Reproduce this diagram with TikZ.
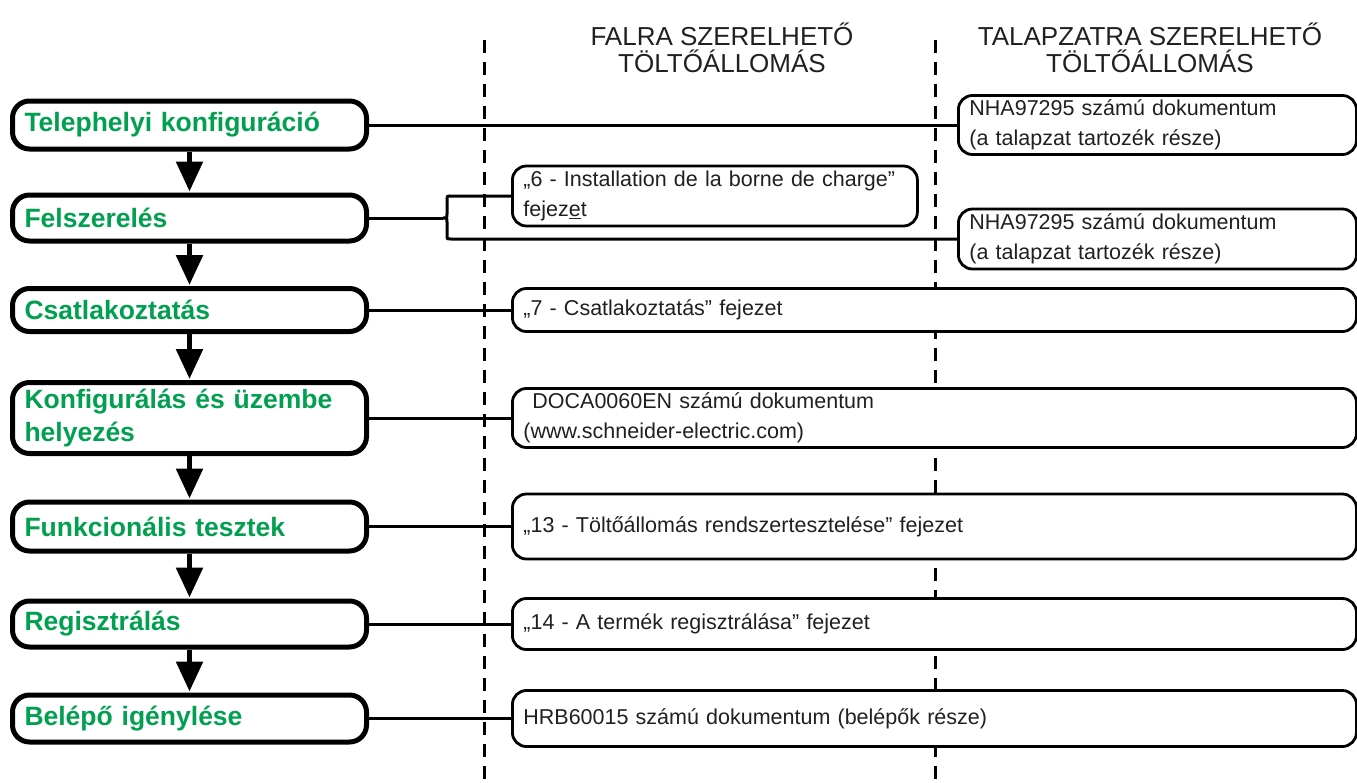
\documentclass[tikz,border=0pt]{standalone}
\usepackage{fontspec}
\setmainfont{Liberation Sans}
\usetikzlibrary{arrows.meta}
\definecolor{sgreen}{RGB}{0,160,80}
\definecolor{txtgray}{RGB}{35,31,32}
\begin{document}
\begin{tikzpicture}[x=1pt,y=-1pt,
  stepbox/.style={draw=black, fill=white, line width=5pt, rounded corners=17pt, minimum width=354pt, text width=330pt, align=left, inner xsep=12pt, inner ysep=0pt, anchor=west, font=\fontsize{26.5}{33}\selectfont\bfseries, text=sgreen},
  docbox/.style={draw=black, fill=white, line width=2.8pt, rounded corners=14pt, align=left, inner xsep=11pt, inner ysep=0pt, anchor=west, font=\fontsize{21.5}{30}\selectfont, text=txtgray},
  shortdoc/.style={docbox, minimum width=398pt, text width=376pt},
  longdoc/.style={docbox, minimum width=844pt, text width=822pt},
  link/.style={line width=3pt},
  flow/.style={line width=5.5pt, shorten >=1pt, -{Triangle[width=26pt,length=30pt]}},
  divider/.style={line width=3pt, dash pattern=on 13pt off 9pt},
  head/.style={font=\fontsize{26}{27}\selectfont, text=txtgray, align=center}
]
\useasboundingbox (0,0) rectangle (1357,782);

% column dividers
\coordinate (v1t) at (484,40);
\coordinate (v1b) at (484,782);
\coordinate (v2t) at (935,40);
\coordinate (v2b) at (935,782);
\draw[divider] (v1t) -- (v1b);
\draw[divider] (v2t) -- (v2b);

% headers
\node[head] (h1) at (722,47.5) {FALRA SZERELHETŐ\\TÖLTŐÁLLOMÁS};
\node[head] (h2) at (1150,47.5) {TALAPZATRA SZERELHETŐ\\TÖLTŐÁLLOMÁS};

% steps
\node[stepbox, minimum height=48pt] (s1) at (10,125) {Telephelyi konfiguráció};
\node[stepbox, minimum height=46pt] (s2) at (10,218) {Felszerelés};
\node[stepbox, minimum height=43pt] (s3) at (10,310) {Csatlakoztatás};
\node[stepbox, minimum height=71pt] (s4) at (10,418) {Konfigurálás és üzembe\\helyezés};
\node[stepbox, minimum height=49pt] (s5) at (10,526.5) {Funkcionális tesztek};
\node[stepbox, minimum height=46pt] (s6) at (10,624) {Regisztrálás};
\node[stepbox, minimum height=47pt] (s7) at (10,718.5) {Belépő igénylése};

% documents
\node[shortdoc, minimum height=59pt] (d1) at (957,125) {NHA97295 számú dokumentum\\(a talapzat tartozék része)};
\node[docbox, minimum width=405pt, text width=383pt, minimum height=60pt] (d2) at (511,196) {„6 - Installation de la borne de charge”\\fejez\underline{e}t};
\node[shortdoc, minimum height=60pt] (d3) at (957,239) {NHA97295 számú dokumentum\\(a talapzat tartozék része)};
\node[longdoc, minimum height=43pt] (d4) at (511,310) {„7 - Csatlakoztatás” fejezet};
\node[longdoc, minimum height=59pt] (d5) at (511,418) {\hspace*{9pt}DOCA0060EN számú dokumentum\\(www.schneider-electric.com)};
\node[longdoc, minimum height=65pt] (d6) at (511,526.5) {„13 - Töltőállomás rendszertesztelése” fejezet};
\node[longdoc, minimum height=51pt] (d7) at (511,624) {„14 - A termék regisztrálása” fejezet};
\node[longdoc, minimum height=56pt] (d8) at (511,718.5) {HRB60015 számú dokumentum (belépők része)};

% flow arrows
\draw[flow] (s1.south) -- (s2.north);
\draw[flow] (s2.south) -- (s3.north);
\draw[flow] (s3.south) -- (s4.north);
\draw[flow] (s4.south) -- (s5.north);
\draw[flow] (s5.south) -- (s6.north);
\draw[flow] (s6.south) -- (s7.north);

% links
\draw[link] (s1.east) -- (d1.west);
\coordinate (bt) at (447,196);
\coordinate (bm) at (447,218);
\coordinate (bb) at (447,239);
\draw[link] (s2.east) -- ([xshift=-4pt]bm);
\draw[link] (d2.west) -- ([xshift=4pt]bt) .. controls (bt) .. ([yshift=-4pt]bt)
  -- ([yshift=4pt]bm) .. controls (bm) .. ([xshift=-4pt]bm)
  .. controls (bm) .. ([yshift=-4pt]bm)
  -- ([yshift=4pt]bb) .. controls (bb) .. ([xshift=4pt]bb) -- (d3.west);
\draw[link] (s3.east) -- (d4.west);
\draw[link] (s4.east) -- (d5.west);
\draw[link] (s5.east) -- (d6.west);
\draw[link] (s6.east) -- (d7.west);
\draw[link] (s7.east) -- (d8.west);
\end{tikzpicture}
\end{document}
